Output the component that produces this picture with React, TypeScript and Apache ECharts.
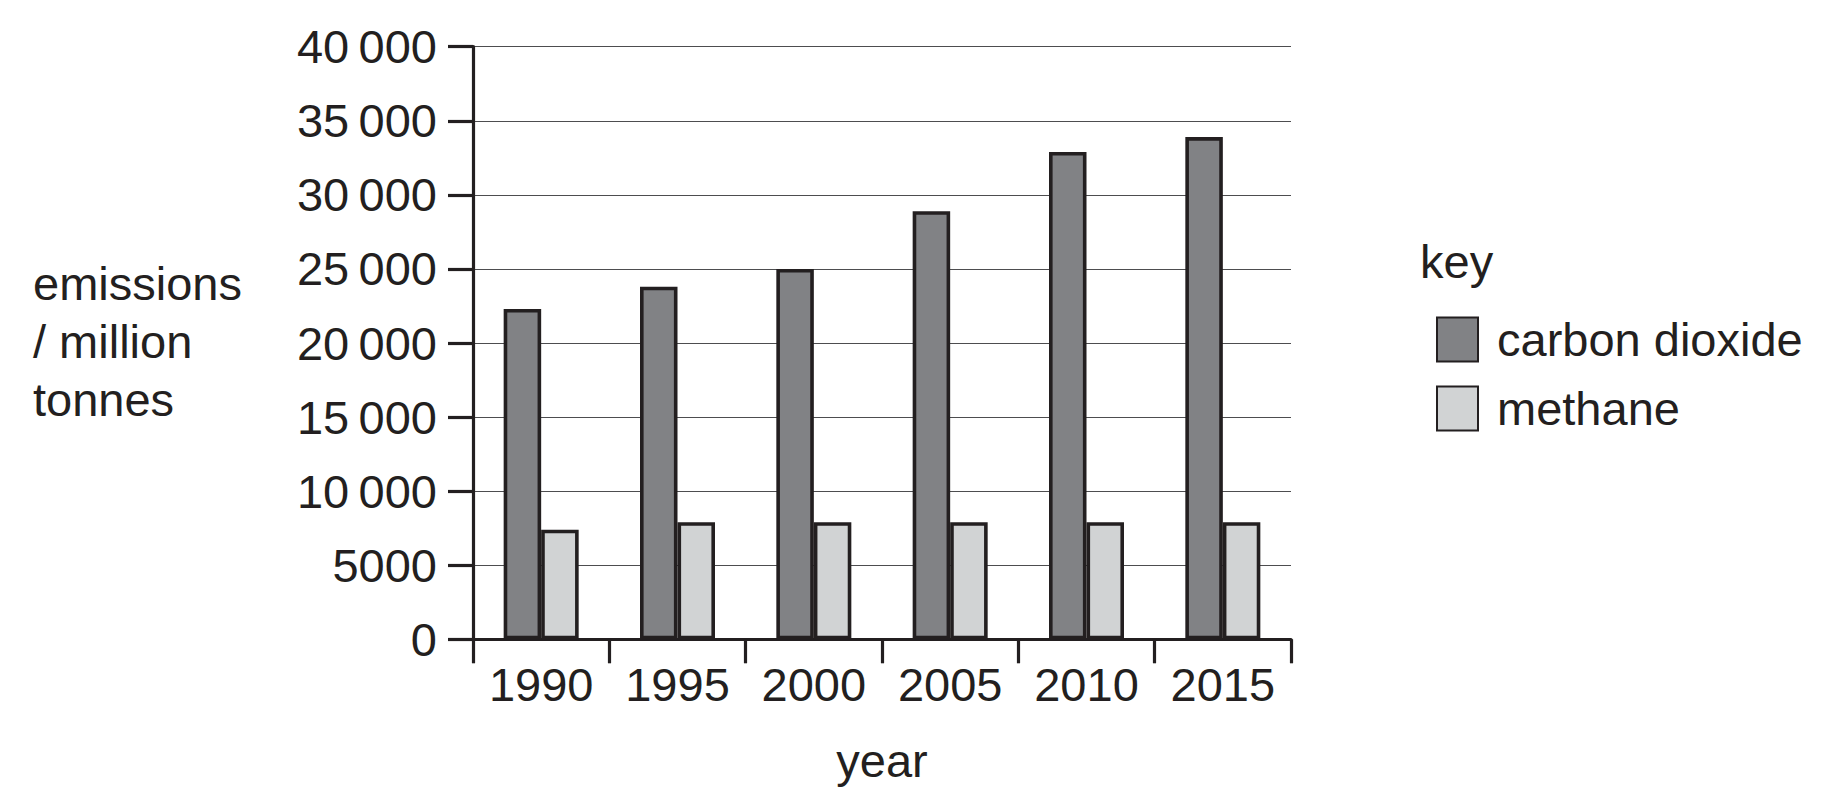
import React, { useEffect, useRef } from 'react';
import * as echarts from 'echarts';

const years = ['1990', '1995', '2000', '2005', '2010', '2015'];
const carbonDioxide = [22300, 23800, 25000, 28900, 32900, 33900];
const methane = [7400, 7900, 7900, 7900, 7900, 7900];
const seriesNames = ['carbon dioxide', 'methane'];
const yMin = 0;
const yMax = 40000;
const yStep = 5000;
const yAxisTitle = ['emissions', '/ million', 'tonnes'];
const xAxisTitle = 'year';
const keyTitle = 'key';

const FONT = "'Liberation Sans', Arial, Helvetica, sans-serif";
const INK = '#231f20';

function formatTick(v: number): string {
  const s = String(v);
  if (v >= 10000) return s.slice(0, s.length - 3) + '\u2009' + s.slice(s.length - 3);
  return s;
}

export default function App() {
  const ref = useRef<HTMLDivElement>(null);
  useEffect(() => {
    if (!ref.current) return;
    const chart = echarts.init(ref.current, undefined, { renderer: 'svg' });
    const yTitleY = [283.5, 341.5, 399];
    chart.setOption({
      animation: false,
      backgroundColor: '#ffffff',
      textStyle: { fontFamily: FONT },
      grid: { left: 473, right: 554, top: 46.7, bottom: 154.7, containLabel: false },
      legend: {
        orient: 'vertical',
        left: 1431,
        top: 311,
        itemWidth: 41,
        itemHeight: 44,
        itemGap: 22,
        selectedMode: false,
        icon: 'rect',
        data: seriesNames,
        textStyle: { fontSize: 47, color: INK, fontFamily: FONT, padding: [0, 0, 0, 14] },
      },
      xAxis: {
        type: 'category',
        data: years,
        name: xAxisTitle,
        nameLocation: 'middle',
        nameGap: 98,
        nameTextStyle: { fontSize: 47, color: INK, fontFamily: FONT },
        axisLine: { show: true, lineStyle: { color: INK, width: 3.2 } },
        axisTick: { show: true, alignWithLabel: false, length: 24, lineStyle: { color: INK, width: 3.2 } },
        axisLabel: { fontSize: 47, color: INK, fontFamily: FONT, margin: 22 },
        splitLine: { show: false },
      },
      yAxis: {
        type: 'value',
        min: yMin,
        max: yMax,
        interval: yStep,
        axisLine: { show: true, lineStyle: { color: INK, width: 3.2 } },
        axisTick: { show: true, length: 25, lineStyle: { color: INK, width: 3.2 } },
        axisLabel: { fontSize: 47, color: INK, fontFamily: FONT, margin: 36, formatter: formatTick },
        splitLine: { show: true, lineStyle: { color: '#4d4d4f', width: 1.2 } },
      },
      series: [
        {
          name: seriesNames[0],
          type: 'bar',
          data: carbonDioxide,
          barWidth: 37.5,
          barGap: '0%',
          itemStyle: { color: '#818285', borderColor: INK, borderWidth: 3.6 },
        },
        {
          name: seriesNames[1],
          type: 'bar',
          data: methane,
          barWidth: 37.5,
          barGap: '0%',
          itemStyle: { color: '#d1d3d4', borderColor: INK, borderWidth: 3.6 },
        },
      ],
      graphic: [
        ...yAxisTitle.map((t, i) => ({
          type: 'text',
          left: 33,
          top: yTitleY[i] - 23.5,
          style: { text: t, fontSize: 47, fill: INK, fontFamily: FONT },
        })),
        {
          type: 'text',
          left: 1420,
          top: 259 - 21.5,
          style: { text: keyTitle, fontSize: 47, fill: INK, fontFamily: FONT },
        },
      ],
    });
    return () => chart.dispose();
  }, []);
  return (
    <div
      ref={ref}
      style={{ position: 'fixed', left: 0, top: 0, width: '1845px', height: '794px', background: '#fff' }}
    />
  );
}
